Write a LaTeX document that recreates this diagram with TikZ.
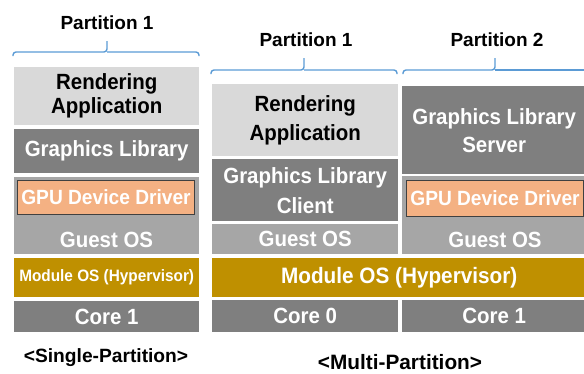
\documentclass[tikz,border=0pt]{standalone}
\usepackage{fontspec}
\setmainfont{Liberation Sans}
\newfontfamily\layerfont[FakeStretch=0.93]{Liberation Sans}
\definecolor{appgrey}{HTML}{D9D9D9}
\definecolor{libgrey}{HTML}{7F7F7F}
\definecolor{osgrey}{HTML}{A6A6A6}
\definecolor{hvgold}{HTML}{BF9000}
\definecolor{drvorange}{HTML}{F4B183}
\definecolor{drvedge}{HTML}{404040}
\definecolor{bracecol}{HTML}{5B9BD5}
\tikzset{
  layer/.style={draw=none, inner sep=0pt, anchor=north west, align=center, font=\layerfont\bfseries\fontsize{22}{24}\selectfont},
  applayer/.style={layer, fill=appgrey, text=black},
  liblayer/.style={layer, fill=libgrey, text=white},
  oslayer/.style={layer, fill=osgrey, text=white},
  hvlayer/.style={layer, fill=hvgold, text=white},
  drvlayer/.style={layer, fill=drvorange, draw=drvedge, line width=1pt, text=white, font=\layerfont\bfseries\fontsize{20.6}{22}\selectfont},
  txt/.style={inner sep=0pt, text=white, font=\layerfont\bfseries\fontsize{22}{24}\selectfont},
  caption/.style={inner sep=0pt, text=black, font=\bfseries\fontsize{19}{22}\selectfont},
  partbrace/.style={draw=bracecol, line width=1.4pt, rounded corners=3pt}
}
\begin{document}
\begin{tikzpicture}[x=1pt,y=-1pt]
\useasboundingbox (0,0) rectangle (584,373);

% ---------- single partition ----------
\node[caption] (p1s) at (107,23) {Partition 1};
\draw[partbrace] (13,56) -- (13,52) -- (107,52) -- (107,41);
\draw[partbrace] (107,52) -- (199,52) -- (199,56);

\node[applayer, minimum width=185, minimum height=58, font=\layerfont\bfseries\fontsize{22}{24}\selectfont] (ra1) at (14,67) {Rendering\\Application};
\node[liblayer, minimum width=185, minimum height=44] (gl1) at (14,129) {Graphics Library};
\node[oslayer, minimum width=185, minimum height=77] (os1) at (14,177) {};
\node[drvlayer, minimum width=177, minimum height=34] (drv1) at (17,180) {GPU Device Driver};
\node[txt] (os1t) at (106.5,240) {Guest OS};
\node[hvlayer, minimum width=185, minimum height=39, font=\layerfont\bfseries\fontsize{16.5}{18}\selectfont] (hv1) at (14,258) {Module OS (Hypervisor)};
\node[liblayer, minimum width=185, minimum height=31] (c1s) at (14,301) {Core 1};
\node[caption, font=\bfseries\fontsize{19.2}{22}\selectfont] (single) at (106,358) {<Single-Partition>};

% ---------- multi partition ----------
\node[caption] (p1m) at (306,40) {Partition 1};
\node[caption] (p2m) at (497,40) {Partition 2};
\draw[partbrace] (211,74) -- (211,70) -- (304,70) -- (304,58);
\draw[partbrace] (304,70) -- (397,70) -- (397,74);
\draw[partbrace] (403,74) -- (403,70) -- (495,70) -- (495,58);
\draw[partbrace] (495,70) -- (590,70);

% partition 1
\node[applayer, minimum width=186, minimum height=72, font=\layerfont\bfseries\fontsize{22}{29}\selectfont] (ra2) at (212,84) {Rendering\\Application};
\node[liblayer, minimum width=186, minimum height=62, font=\layerfont\bfseries\fontsize{22}{30}\selectfont] (glc) at (212,159) {Graphics Library\\Client};
\node[oslayer, minimum width=186, minimum height=30] (os2) at (212,224) {Guest OS};

% partition 2
\node[liblayer, minimum width=184, minimum height=88, font=\layerfont\bfseries\fontsize{22}{28}\selectfont] (gls) at (402,86) {Graphics Library\\Server};
\node[oslayer, minimum width=184, minimum height=78] (os3) at (402,176) {};
\node[drvlayer, minimum width=177, minimum height=36] (drv2) at (406,179.5) {GPU Device Driver};
\node[txt] (os3t) at (495,240) {Guest OS};

% shared layers
\node[hvlayer, minimum width=374, minimum height=39, font=\layerfont\bfseries\fontsize{22.3}{24}\selectfont] (hv2) at (212,258) {Module OS (Hypervisor)};
\node[liblayer, minimum width=186, minimum height=32] (c0m) at (212,300) {Core 0};
\node[liblayer, minimum width=184, minimum height=32] (c1m) at (402,300) {Core 1};
\node[caption, font=\bfseries\fontsize{20.8}{24}\selectfont] (multi) at (400,362) {<Multi-Partition>};
\end{tikzpicture}
\end{document}
